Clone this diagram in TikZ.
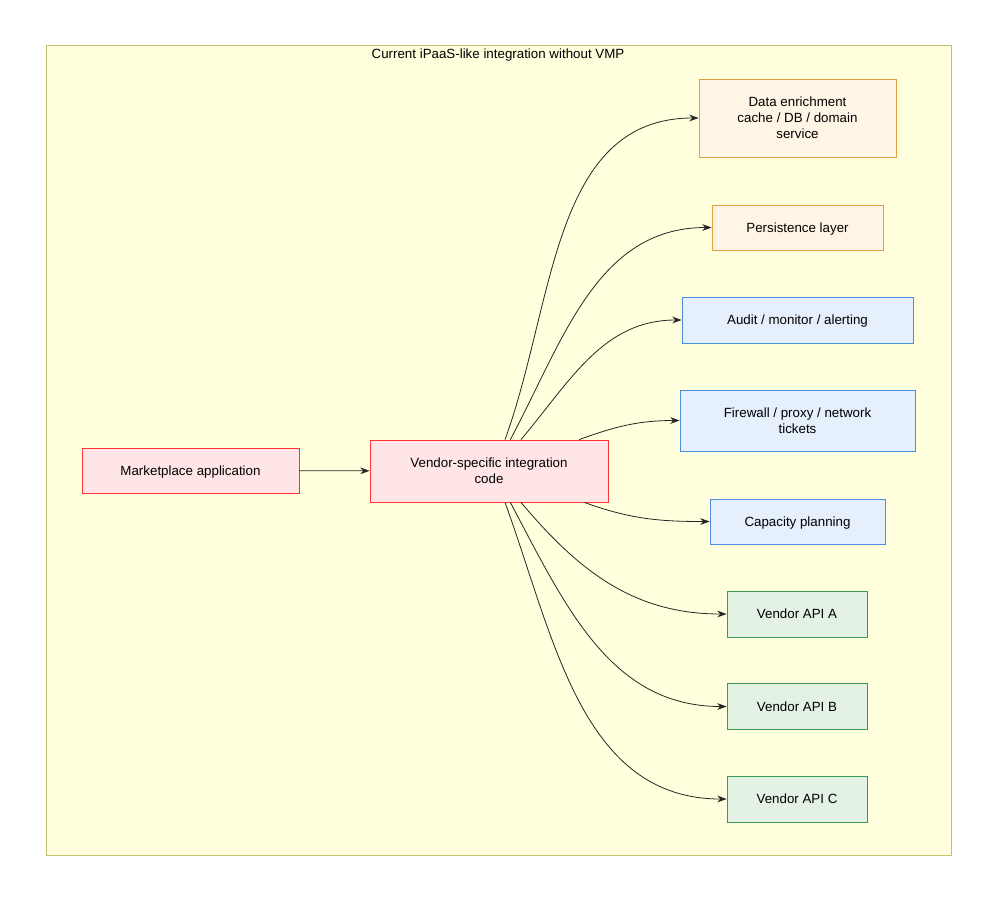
\documentclass[tikz,border=0pt]{standalone}
\usepackage{fontspec}
\setmainfont{Liberation Sans}
\usetikzlibrary{arrows.meta}
\definecolor{frm}{HTML}{FFFFDE}
\definecolor{frmd}{HTML}{AAAA33}
\definecolor{bluf}{HTML}{E6EFFC}
\definecolor{blud}{HTML}{4A90E2}
\definecolor{grnf}{HTML}{E4F2E6}
\definecolor{grnd}{HTML}{3A9A55}
\definecolor{orgf}{HTML}{FFF5E6}
\definecolor{orgd}{HTML}{E0A040}
\begin{document}
\begin{tikzpicture}[x=0.75pt,y=-0.75pt,>={Stealth[length=7pt,width=5pt]},semithick,
                    font=\fontsize{10}{12}\selectfont]
  \tikzstyle{box}=[draw, anchor=center, align=center, inner sep=2pt, text depth=-4pt]
  \tikzstyle{red}=[box, fill=red!10, draw=red!80]
  \tikzstyle{org}=[box, fill=orgf, draw=orgd]
  \tikzstyle{blu}=[box, fill=bluf, draw=blud]
  \tikzstyle{grn}=[box, fill=grnf, draw=grnd]
  \tikzstyle{link}=[->, draw=black!85]

  \useasboundingbox (0,0) rectangle (994,897);
  \draw[fill=frm, draw=frmd!70] (46,45) rectangle (951,855);
  \node (T) at (498,55) {Current iPaaS-like integration without VMP};

  \node[red, minimum width=217pt*0.75, minimum height=45pt*0.75] (M) at (190.5,470.5) {Marketplace application};
  \node[red, minimum width=238pt*0.75, minimum height=62pt*0.75] (V) at (489,471) {Vendor-specific integration\\code};

  \node[org, minimum width=197pt*0.75, minimum height=78pt*0.75] (D) at (797.5,118) {Data enrichment\\cache / DB / domain\\service};
  \node[org, minimum width=171pt*0.75, minimum height=45pt*0.75] (P) at (797.5,227.5) {Persistence layer};
  \node[blu, minimum width=231pt*0.75, minimum height=46pt*0.75] (A) at (797.5,320) {Audit / monitor / alerting};
  \node[blu, minimum width=235pt*0.75, minimum height=61pt*0.75] (F) at (797.5,420.5) {Firewall / proxy / network\\tickets};
  \node[blu, minimum width=175pt*0.75, minimum height=45pt*0.75] (C) at (797.5,521.5) {Capacity planning};
  \node[grn, minimum width=140pt*0.75, minimum height=46pt*0.75] (VA) at (797,614) {Vendor API A};
  \node[grn, minimum width=140pt*0.75, minimum height=46pt*0.75] (VB) at (797,706.5) {Vendor API B};
  \node[grn, minimum width=140pt*0.75, minimum height=46pt*0.75] (VC) at (797,799) {Vendor API C};

  \draw[link] (M) -- (V);
  \draw[link] ([xshift=12]V.north) to[out=70, in=180] (D.west);
  \draw[link] ([xshift=16]V.north) to[out=62, in=180] (P.west);
  \draw[link] ([xshift=24]V.north) to[out=50, in=180] (A.west);
  \draw[link] ([xshift=-22]V.north east) to[out=20, in=180] (F.west);
  \draw[link] ([xshift=-18]V.south east) to[out=-20, in=180] (C.west);
  \draw[link] ([xshift=24]V.south) to[out=-50, in=180] (VA.west);
  \draw[link] ([xshift=16]V.south) to[out=-62, in=180] (VB.west);
  \draw[link] ([xshift=12]V.south) to[out=-70, in=180] (VC.west);
\end{tikzpicture}
\end{document}
